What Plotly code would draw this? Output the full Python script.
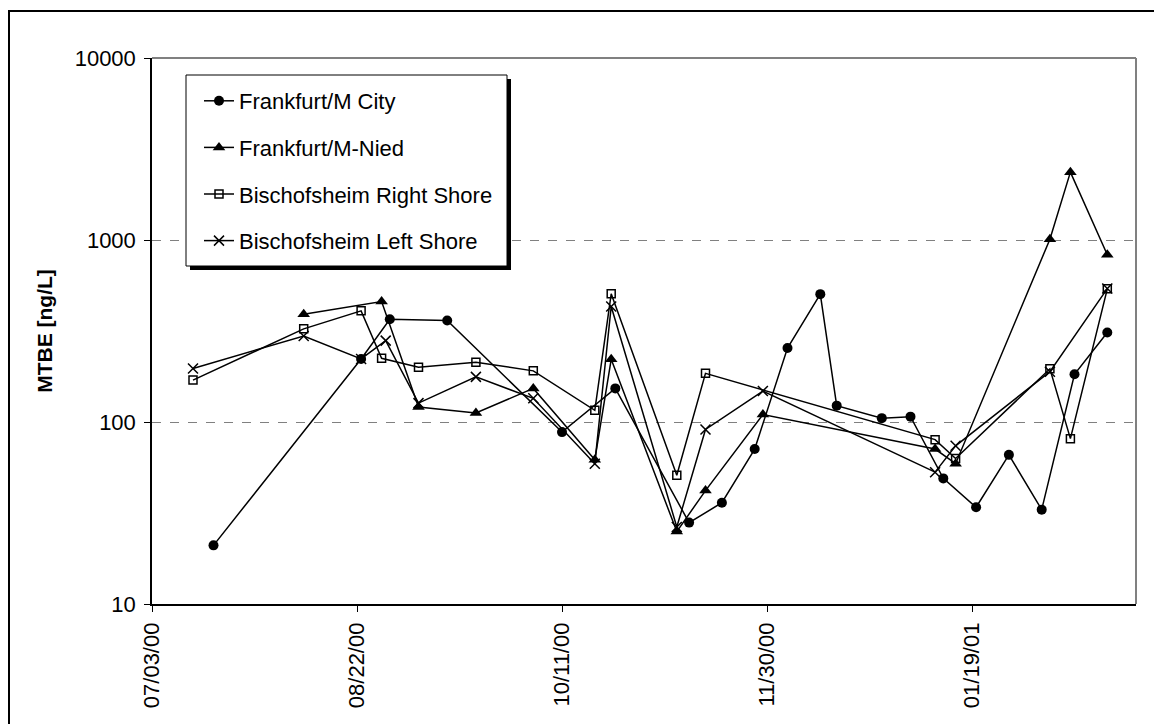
import plotly.graph_objects as go

# MTBE concentrations in river water samples (ng/L)
city_dates = ["2000-07-18", "2000-08-23", "2000-08-30", "2000-09-13", "2000-10-11",
              "2000-10-24", "2000-11-11", "2000-11-19", "2000-11-27", "2000-12-05",
              "2000-12-13", "2000-12-17", "2000-12-28", "2001-01-04", "2001-01-12",
              "2001-01-20", "2001-01-28", "2001-02-05", "2001-02-13", "2001-02-21"]
city_vals = [21, 222, 367, 361, 88, 153, 28, 36, 71, 255,
             504, 123, 105, 107, 49, 34, 66, 33, 183, 310]

nied_dates = ["2000-08-09", "2000-08-28", "2000-09-06", "2000-09-20", "2000-10-04",
              "2000-10-19", "2000-10-23", "2000-11-08", "2000-11-15", "2000-11-29",
              "2001-01-10", "2001-01-15", "2001-02-07", "2001-02-12", "2001-02-21"]
nied_vals = [391, 459, 121, 112, 153, 62, 221, 25, 42, 110, 71, 59, 1010, 2360, 830]

right_dates = ["2000-07-13", "2000-08-09", "2000-08-23", "2000-08-28", "2000-09-06",
               "2000-09-20", "2000-10-04", "2000-10-19", "2000-10-23", "2000-11-08",
               "2000-11-15", "2001-01-10", "2001-01-15", "2001-02-07", "2001-02-12",
               "2001-02-21"]
right_vals = [170, 325, 408, 224, 200, 213, 191, 116, 506, 51, 185, 80, 63, 196, 81, 539]

left_dates = ["2000-07-13", "2000-08-09", "2000-08-23", "2000-08-29", "2000-09-06",
              "2000-09-20", "2000-10-04", "2000-10-19", "2000-10-23", "2000-11-08",
              "2000-11-15", "2000-11-29", "2001-01-10", "2001-01-15", "2001-02-07",
              "2001-02-21"]
left_vals = [197, 297, 222, 280, 127, 177, 135, 59, 431, 26.5, 91, 148, 53, 74, 189, 541]

series_names = ["Frankfurt/M City", "Frankfurt/M-Nied",
                "Bischofsheim Right Shore", "Bischofsheim Left Shore"]

y_tick_vals = [10, 100, 1000, 10000]
y_tick_text = ["10", "100", "1000", "10000"]

W, H = 1154, 724
ML, MR, MT, MB = 152, 18, 58, 120
PW, PH = W - ML - MR, H - MT - MB
FONT = "Liberation Sans, Arial, sans-serif"


def px(x):
    return (x - ML) / PW


def py(y):
    return (H - MB - y) / PH


fig = go.Figure()

styles = [
    dict(symbol="circle", size=10, color="black", line=dict(width=0)),
    dict(symbol="triangle-up", size=11, color="black", line=dict(width=0)),
    dict(symbol="square-open", size=8, color="black", line=dict(width=1.5, color="black")),
    dict(symbol="x-thin-open", size=10, color="black", line=dict(width=1.5, color="black")),
]
data = [(city_dates, city_vals), (nied_dates, nied_vals),
        (right_dates, right_vals), (left_dates, left_vals)]

for i, ((d, v), name, mk) in enumerate(zip(data, series_names, styles)):
    fig.add_trace(go.Scatter(
        x=d, y=v, name=name, mode="lines+markers",
        line=dict(color="black", width=1.5),
        marker=mk, legendgroup=f"g{i}", cliponaxis=False,
    ))

shapes = [
    # outer chart frame
    dict(type="rect", xref="paper", yref="paper", x0=px(9), x1=px(1170),
         y0=py(740), y1=py(11), line=dict(color="black", width=2), layer="above"),
    # plot frame top and right edges
    dict(type="line", xref="paper", yref="paper", x0=0, x1=1, y0=1, y1=1,
         line=dict(color="#808080", width=2), layer="above"),
    dict(type="line", xref="paper", yref="paper", x0=1, x1=1, y0=0, y1=1,
         line=dict(color="#808080", width=2), layer="above"),
    # legend shadow and box
    dict(type="rect", xref="paper", yref="paper", x0=px(190), x1=px(511),
         y0=py(270), y1=py(79), fillcolor="black", line=dict(width=0), layer="above"),
    dict(type="rect", xref="paper", yref="paper", x0=px(186), x1=px(507),
         y0=py(266), y1=py(75), fillcolor="white",
         line=dict(color="black", width=1), layer="above"),
]

fig.update_layout(
    width=W, height=H,
    margin=dict(l=ML, r=MR, t=MT, b=MB, pad=0),
    paper_bgcolor="white", plot_bgcolor="white",
    font=dict(family=FONT, color="black", size=22),
    shapes=shapes,
    showlegend=True,
    legend=dict(
        x=px(199), y=py(80), xanchor="left", yanchor="top",
        bgcolor="rgba(0,0,0,0)", borderwidth=0,
        font=dict(family=FONT, size=22, color="black"),
        tracegroupgap=15, itemsizing="trace",
    ),
    xaxis=dict(
        type="date", range=["2000-07-03", "2001-02-28"],
        tick0="2000-07-03", dtick=50 * 86400000, tickformat="%m/%d/%y",
        tickangle=-90, ticks="outside", ticklen=6, tickcolor="black",
        showline=True, linecolor="black", linewidth=1.5,
        showgrid=False, zeroline=False, ticklabelstandoff=2,
        tickfont=dict(family=FONT, size=22),
    ),
    yaxis=dict(
        type="log", range=[1, 4],
        tickvals=y_tick_vals, ticktext=y_tick_text,
        ticks="outside", ticklen=6, tickcolor="black",
        showline=True, linecolor="black", linewidth=1.5,
        showgrid=True, gridcolor="#808080", griddash="dash", gridwidth=1,
        zeroline=False, ticklabelstandoff=4,
        tickfont=dict(family=FONT, size=22),
        title=dict(text="<b>MTBE [ng/L]</b>", font=dict(family=FONT, size=21), standoff=16),
    ),
)

fig.write_html("out.html")
